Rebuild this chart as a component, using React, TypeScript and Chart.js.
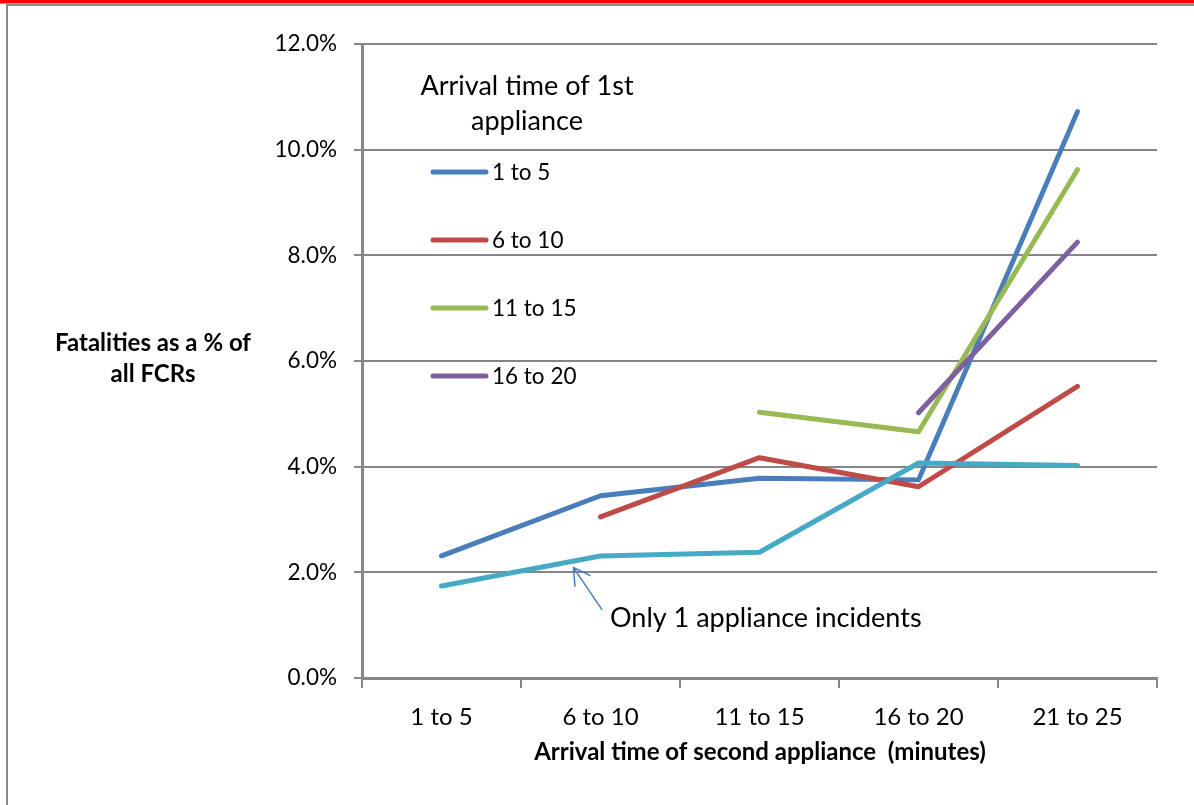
import React, { useEffect, useRef } from "react";
import { Chart, registerables } from "chart.js";

Chart.register(...registerables);

const categories = ["1 to 5", "6 to 10", "11 to 15", "16 to 20", "21 to 25"];
const seriesNames = ["1 to 5", "6 to 10", "11 to 15", "16 to 20", "Only 1 appliance incidents"];
const series1to5 = [2.31, 3.45, 3.78, 3.75, 10.72];
const series6to10 = [null, 3.05, 4.17, 3.62, 5.52];
const series11to15 = [null, null, 5.03, 4.66, 9.62];
const series16to20 = [null, null, null, 5.02, 8.25];
const seriesOnly1 = [1.74, 2.31, 2.38, 4.07, 4.02];
const seriesColors = ["#4A7EBB", "#BE4B48", "#98B954", "#7D60A0", "#46AAC5"];
const yTickValues = [0, 2, 4, 6, 8, 10, 12];

const legendTitle = ["Arrival time of 1st", "appliance"];
const yTitle = ["Fatalities as a % of", "all FCRs"];
const xTitle = "Arrival time of second appliance  (minutes)";
const annotationText = "Only 1 appliance incidents";

const FONT = "Lato, 'Open Sans', 'DejaVu Sans', sans-serif";
const GRID = "#868686";

const decorPlugin = {
  id: "decor",
  beforeDraw(chart: any) {
    const ctx = chart.ctx;
    ctx.save();
    ctx.fillStyle = "#ffffff";
    ctx.fillRect(0, 0, chart.width, chart.height);
    ctx.fillStyle = "#FF0000";
    ctx.fillRect(0, 0, chart.width, 3.5);
    ctx.strokeStyle = "#8a8a8a";
    ctx.lineWidth = 2;
    ctx.beginPath();
    ctx.moveTo(chart.width + 5, 5);
    ctx.lineTo(7, 5);
    ctx.lineTo(7, chart.height + 5);
    ctx.stroke();
    ctx.restore();
  },
  afterDraw(chart: any) {
    const ctx = chart.ctx;
    const xs = chart.scales.x;
    const ys = chart.scales.y;
    ctx.save();
    ctx.fillStyle = "#000000";
    ctx.textBaseline = "middle";

    // y axis title
    ctx.font = `bold 24px ${FONT}`;
    ctx.textAlign = "center";
    ctx.fillText(yTitle[0], 153, 343);
    ctx.fillText(yTitle[1], 153, 374);

    // x axis title
    ctx.fillText(xTitle, 760, 752);

    // legend title
    ctx.font = `27px ${FONT}`;
    ctx.fillText(legendTitle[0], 527, 86);
    ctx.fillText(legendTitle[1], 527, 121);

    // legend entries (first four series)
    ctx.textAlign = "left";
    ctx.font = `22.5px ${FONT}`;
    const legendY = [172, 240, 308, 376];
    for (let i = 0; i < 4; i++) {
      const y = legendY[i];
      ctx.strokeStyle = seriesColors[i];
      ctx.lineWidth = 5;
      ctx.lineCap = "round";
      ctx.beginPath();
      ctx.moveTo(433, y);
      ctx.lineTo(486, y);
      ctx.stroke();
      ctx.fillStyle = "#000000";
      ctx.fillText(seriesNames[i], 492, y + 1);
    }

    // annotation arrow
    const tipX = xs.getPixelForValue(0.83);
    const tipY = ys.getPixelForValue(2.09);
    const tailX = xs.getPixelForValue(1.01);
    const tailY = ys.getPixelForValue(1.29);
    ctx.strokeStyle = "#4A7EBB";
    ctx.lineWidth = 1.5;
    ctx.lineCap = "butt";
    ctx.beginPath();
    ctx.moveTo(tailX, tailY);
    ctx.lineTo(tipX, tipY);
    ctx.moveTo(tipX + 1.5, tipY + 19);
    ctx.lineTo(tipX, tipY);
    ctx.lineTo(tipX + 17, tipY + 8);
    ctx.stroke();

    ctx.fillStyle = "#000000";
    ctx.font = `27px ${FONT}`;
    ctx.textAlign = "left";
    ctx.fillText(annotationText, 610, 618);
    ctx.restore();
  },
};

export default function App() {
  const ref = useRef<HTMLCanvasElement | null>(null);

  useEffect(() => {
    if (!ref.current) return;
    const seriesData = [series1to5, series6to10, series11to15, series16to20, seriesOnly1];
    const chart = new Chart(ref.current, {
      type: "line",
      data: {
        labels: categories,
        datasets: seriesData.map((d, i) => ({
          label: seriesNames[i],
          data: d,
          borderColor: seriesColors[i],
          backgroundColor: seriesColors[i],
          borderWidth: 5,
          borderCapStyle: "round",
          borderJoinStyle: "round",
          pointRadius: 0,
          pointHoverRadius: 0,
          tension: 0,
          spanGaps: false,
          fill: false,
          order: 4 - i,
        })),
      },
      options: {
        animation: false,
        responsive: false,
        maintainAspectRatio: false,
        devicePixelRatio: 1,
        layout: { padding: { left: 0, right: 37, top: 44, bottom: 0 } },
        plugins: {
          legend: { display: false },
          tooltip: { enabled: false },
          title: { display: false },
        },
        scales: {
          x: {
            type: "category",
            offset: true,
            afterFit: (s: any) => {
              s.height = 127;
            },
            grid: {
              display: true,
              offset: true,
              drawOnChartArea: false,
              drawTicks: true,
              tickLength: 10,
              color: GRID,
              lineWidth: 2,
            },
            border: { display: true, color: GRID, width: 3 },
            ticks: {
              color: "#000000",
              font: { family: FONT, size: 24 },
              padding: 15,
              maxRotation: 0,
              autoSkip: false,
            },
          },
          y: {
            min: 0,
            max: 12,
            afterFit: (s: any) => {
              s.width = 362;
            },
            afterBuildTicks: (s: any) => {
              s.ticks = yTickValues.map((v) => ({ value: v }));
            },
            grid: {
              display: true,
              drawTicks: true,
              tickLength: 8,
              color: GRID,
              lineWidth: 2,
            },
            border: { display: true, color: GRID, width: 3 },
            ticks: {
              color: "#000000",
              font: { family: FONT, size: 22.5 },
              padding: 17,
              callback: (v: any) => Number(v).toFixed(1) + "%",
            },
          },
        },
      },
      plugins: [decorPlugin],
    } as any);
    return () => chart.destroy();
  }, []);

  return (
    <div style={{ position: "fixed", left: 0, top: 0, width: 1194, height: 805, background: "#fff" }}>
      <canvas ref={ref} width={1194} height={805} style={{ display: "block", width: 1194, height: 805 }} />
    </div>
  );
}
